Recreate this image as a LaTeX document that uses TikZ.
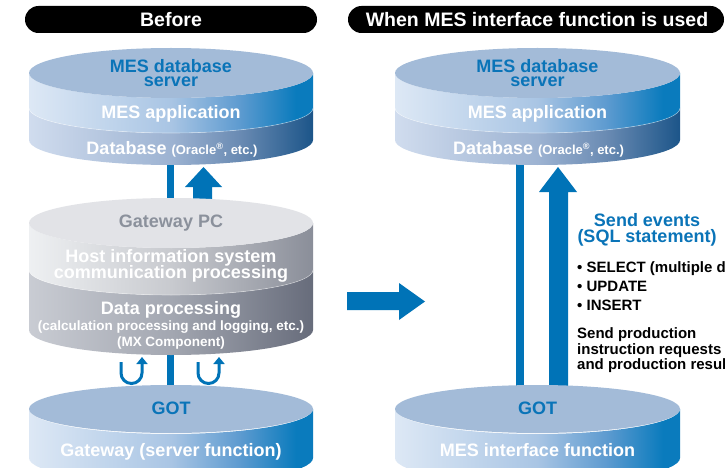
\documentclass[tikz,border=0pt]{standalone}
\usepackage{fontspec}
\setmainfont{Liberation Sans}
\usetikzlibrary{arrows.meta}
\definecolor{arrowblue}{HTML}{0073B7}
\definecolor{textblue}{HTML}{0A74B8}
\definecolor{topblue}{HTML}{A3BBD8}
\definecolor{topgray}{HTML}{E2E3E7}
\definecolor{graytext}{HTML}{8B919C}
\definecolor{bu0}{HTML}{DDE8F5}\definecolor{bu1}{HTML}{A9C5E4}\definecolor{bu2}{HTML}{5E9BD0}\definecolor{bu3}{HTML}{0A7BBD}
\definecolor{bl0}{HTML}{D0DCEE}\definecolor{bl1}{HTML}{9DB3D2}\definecolor{bl2}{HTML}{6A8BB3}\definecolor{bl3}{HTML}{1C5589}
\definecolor{gu0}{HTML}{EEF0F2}\definecolor{gu1}{HTML}{C8CACF}\definecolor{gu2}{HTML}{8A8E99}
\definecolor{gl0}{HTML}{C9CCD3}\definecolor{gl1}{HTML}{A3A7B1}\definecolor{gl2}{HTML}{676C7B}
\pgfdeclarehorizontalshading{bandblueup}{100bp}{color(0bp)=(bu0); color(25bp)=(bu0); color(50bp)=(bu1); color(62bp)=(bu2); color(72bp)=(bu3); color(100bp)=(bu3)}
\pgfdeclarehorizontalshading{bandbluelow}{100bp}{color(0bp)=(bl0); color(25bp)=(bl0); color(50bp)=(bl1); color(62bp)=(bl2); color(75bp)=(bl3); color(100bp)=(bl3)}
\pgfdeclarehorizontalshading{bandgrayup}{100bp}{color(0bp)=(gu0); color(25bp)=(gu0); color(50bp)=(gu1); color(75bp)=(gu2); color(100bp)=(gu2)}
\pgfdeclarehorizontalshading{bandgraylow}{100bp}{color(0bp)=(gl0); color(25bp)=(gl0); color(50bp)=(gl1); color(75bp)=(gl2); color(100bp)=(gl2)}
\newcommand{\cylband}[6]{%
  \shade[shading=#6] (#1-#2,#4) -- (#1-#2,#5)
    arc[start angle=180,end angle=0,x radius=#2,y radius=#3]
    -- (#1+#2,#4)
    arc[start angle=0,end angle=180,x radius=#2,y radius=#3] -- cycle;}
\newcommand{\divline}[4]{%
  \draw[white,opacity=0.45,line width=0.6pt] (#1-#2,#4)
    arc[start angle=180,end angle=0,x radius=#2,y radius=#3];}
\begin{document}
\begin{tikzpicture}[x=1pt,y=-1pt,
  lbl/.style={inner sep=0pt,anchor=base,font=\fontsize{18}{18}\selectfont\bfseries,white},
  bluelbl/.style={lbl,textblue},
  smalllbl/.style={inner sep=0pt,anchor=base,font=\fontsize{13.5}{13.5}\selectfont\bfseries,white},
  note/.style={inner sep=0pt,anchor=base west,font=\fontsize{15}{15}\selectfont\bfseries,black},
  title/.style={inner sep=0pt,anchor=base,font=\fontsize{19.5}{19.5}\selectfont\bfseries,white},
  pill/.style={fill=black,rounded corners=13.5pt},
  bar/.style={fill=arrowblue},
  uturn/.style={draw=arrowblue,line width=3pt,-{Triangle[width=11pt,length=7pt]}}]
\useasboundingbox (0,0) rectangle (725,468);
\fill[white] (0,0) rectangle (725,468);

% headers
\fill[pill] (25,6) rectangle (317,33);
\node[title] (tbefore) at (171,26.5) {Before};
\fill[pill] (348,6) rectangle (724,33);
\node[title] (tafter) at (537,26.5) {When MES interface function is used};

% named anchor coordinates
\coordinate (ltopbot) at (171,165);
\coordinate (gwtop) at (171,198);
\coordinate (gwbot) at (171,355);
\coordinate (lgottop) at (171,385);
\coordinate (rtopbot) at (537.5,165);
\coordinate (rgottop) at (537.5,385);

% left connectors
\fill[bar] (167,150) rectangle (174,210);
\fill[bar] (193,215) -- (193,187) -- (185,187) -- (203.5,167) -- (222,187) -- (212,187) -- (212,215) -- cycle;
\fill[bar] (167,340) rectangle (174,400);
\draw[uturn] (121,362) -- (121,373) arc[start angle=180,end angle=0,radius=10.5] -- (142,357);
\draw[uturn] (198,362) -- (198,373) arc[start angle=180,end angle=0,radius=10.5] -- (219,357);

% right connectors
\fill[bar] (516,150) rectangle (524,400);
\fill[bar] (549,400) -- (549,192) -- (539,192) -- (558,167) -- (577,192) -- (568,192) -- (568,400) -- cycle;

% middle arrow
\fill[bar] (347,292) -- (399,292) -- (399,283) -- (425,301.5) -- (399,320) -- (399,310) -- (347,310) -- cycle;

% ---------- left top cylinder ----------
\cylband{171}{142}{25}{108}{140}{bandbluelow}
\cylband{171}{142}{25}{73}{108}{bandblueup}
\divline{171}{142}{25}{108}
\fill[topblue] (171,73) ellipse[x radius=142,y radius=25];
\node[bluelbl] (lmes1) at (171,73) {MES database};
\node[bluelbl] (lmes2) at (171,87) {server};
\node[lbl] (lapp) at (171,119) {MES application};
\node[lbl] (ldb) at (172,154) {Database {\fontsize{13}{13}\selectfont(Oracle\textsuperscript{®}, etc.)}};

% ---------- gateway PC ----------
\cylband{171}{142}{25}{270}{330}{bandgraylow}
\cylband{171}{142}{25}{223}{270}{bandgrayup}
\divline{171}{142}{25}{270}
\fill[topgray] (171,223) ellipse[x radius=142,y radius=25];
\node[lbl,graytext] (gwpc) at (171,227) {Gateway PC};
\node[lbl] (gwh1) at (171,262) {Host information system};
\node[lbl] (gwh2) at (171,278) {communication processing};
\node[lbl] (gwd1) at (171,314) {Data processing};
\node[smalllbl] (gwd2) at (171,330) {(calculation processing and logging, etc.)};
\node[smalllbl] (gwd3) at (171,346) {(MX Component)};

% ---------- left GOT ----------
\cylband{171}{142}{25}{409}{458}{bandblueup}
\fill[topblue] (171,409) ellipse[x radius=142,y radius=24];
\node[bluelbl] (lgot) at (171,414) {GOT};
\node[lbl] (lgw) at (171,456) {Gateway (server function)};

% ---------- right top cylinder ----------
\cylband{537.5}{142.5}{25}{108}{140}{bandbluelow}
\cylband{537.5}{142.5}{25}{73}{108}{bandblueup}
\divline{537.5}{142.5}{25}{108}
\fill[topblue] (537.5,73) ellipse[x radius=142.5,y radius=25];
\node[bluelbl] (rmes1) at (537.5,73) {MES database};
\node[bluelbl] (rmes2) at (537.5,87) {server};
\node[lbl] (rapp) at (537.5,119) {MES application};
\node[lbl] (rdb) at (538.5,154) {Database {\fontsize{13}{13}\selectfont(Oracle\textsuperscript{®}, etc.)}};

% ---------- right GOT ----------
\cylband{537.5}{142.5}{25}{409}{458}{bandblueup}
\fill[topblue] (537.5,409) ellipse[x radius=142.5,y radius=24];
\node[bluelbl] (rgot) at (537.5,414) {GOT};
\node[lbl] (rmif) at (537.5,456) {MES interface function};

% ---------- right notes ----------
\node[bluelbl] (se1) at (647,226) {Send events};
\node[bluelbl] (se2) at (647,242) {(SQL statement)};
\node[note] (b1) at (577,272) {• SELECT (multiple data)};
\node[note] (b2) at (577,291) {• UPDATE};
\node[note] (b3) at (577,310) {• INSERT};
\node[note] (n1) at (577,338) {Send production};
\node[note] (n2) at (577,354) {instruction requests};
\node[note] (n3) at (577,369) {and production results};
\end{tikzpicture}
\end{document}
